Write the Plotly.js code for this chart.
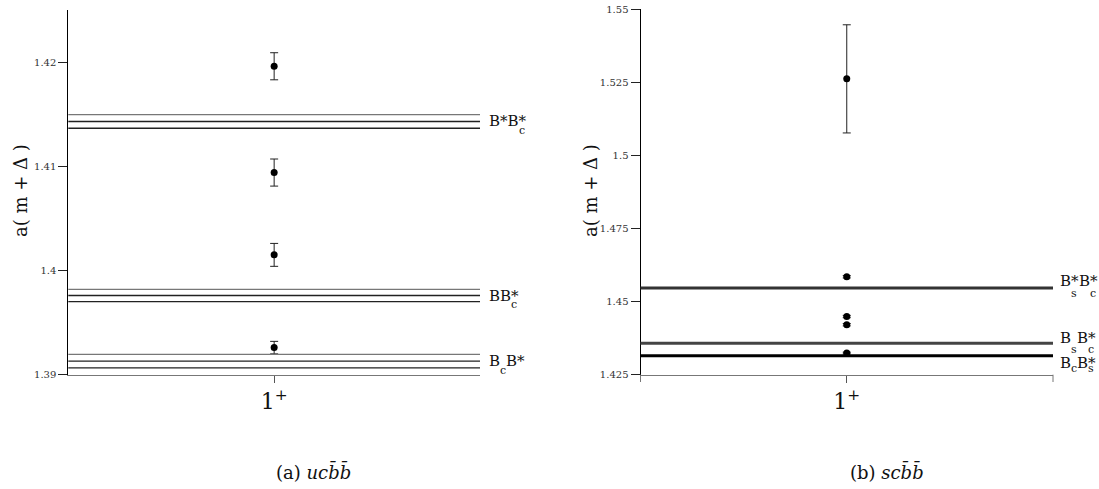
<!DOCTYPE html>
<html>
<head>
<meta charset="utf-8">
<script src="https://cdn.plot.ly/plotly-3.0.1.min.js"></script>
<style>html,body{margin:0;padding:0;background:#fff}#chart{width:1099px;height:489px}</style>
</head>
<body>
<div id="chart"></div>
<script>
// ---- data: panel (a) u c bbar bbar ----
const channelCats = ['1<sup>+</sup>'];
const leftMass = [1.4196, 1.4094, 1.4015, 1.3926];
const leftErr  = [0.0013, 0.0013, 0.0011, 0.0006];
const leftThrCenter = [1.4143, 1.3976, 1.3913];
const leftThrErr    = [0.00065, 0.00058, 0.00065];
const leftThrLabels = [
  [['B*B*', 'c']],
  [['BB*', 'c']],
  [['B', 'c'], ['B*', '']]
];
const leftTicks = [1.39, 1.40, 1.41, 1.42];
const leftTickText = ['1.39', '1.4', '1.41', '1.42'];

// ---- data: panel (b) s c bbar bbar ----
const rightMass = [1.5262, 1.4585, 1.4449, 1.4421, 1.4324];
const rightErr  = [0.0185, 0.0004, 0.0004, 0.0004, 0.0003];
const rightThr  = [1.4547, 1.4358, 1.4315];
const rightThrLabels = [
  [['B*', 's'], ['B*', 'c']],
  [['B', 's'], ['B*', 'c']],
  [['B', 'c'], ['B*', 's']]
];
const rightTicks = [1.425, 1.45, 1.475, 1.5, 1.525, 1.55];
const rightTickText = ['1.425', '1.45', '1.475', '1.5', '1.525', '1.55'];

// ---- layout helpers ----
const W = 1099, H = 489;
const SERIF = 'DejaVu Serif';
const MAINSZ = 15, SUBSZ = 11;
const cv = document.createElement('canvas').getContext('2d');
function tw(t, sz) { cv.font = sz + 'px "DejaVu Serif"'; return cv.measureText(t).width; }

const annotations = [];
const shapes = [];

function addLabel(tokens, xref, yref, yval, gap, baseDy, subDy) {
  let off = gap;
  tokens.forEach(([main, sub]) => {
    annotations.push({xref: xref, yref: yref, x: 1, y: yval, xanchor: 'left', yanchor: 'middle',
      xshift: off, yshift: baseDy, text: main, showarrow: false,
      font: {family: SERIF, size: MAINSZ, color: '#111'}});
    const wMain = tw(main, MAINSZ);
    let adv = wMain;
    if (sub) {
      let sx;
      if (main.endsWith('*')) {
        sx = off + wMain - tw('*', MAINSZ);
        adv = Math.max(wMain, wMain - tw('*', MAINSZ) + tw(sub, SUBSZ));
      } else {
        sx = off + wMain;
        adv = wMain + tw(sub, SUBSZ);
      }
      annotations.push({xref: xref, yref: yref, x: 1, y: yval, xanchor: 'left', yanchor: 'middle',
        xshift: sx, yshift: subDy, text: sub, showarrow: false,
        font: {family: SERIF, size: SUBSZ, color: '#111'}});
    }
    off += adv;
  });
}

leftThrCenter.forEach((c, i) => {
  [c + leftThrErr[i], c, c - leftThrErr[i]].forEach((v, k) => {
    shapes.push({type: 'line', xref: 'x domain', yref: 'y', x0: 0, x1: 1, y0: v, y1: v,
      line: {color: k === 0 ? '#777' : '#222', width: 1.3}});
  });
  addLabel(leftThrLabels[i], 'x domain', 'y', c, 7, 0, -9);
});

const rightColors = ['#333', '#444', '#000'];
const rightBaseDy = [7, 5.5, -7];
const rightSubDy = [-6, -6, -13];
rightThr.forEach((v, i) => {
  shapes.push({type: 'line', xref: 'x2 domain', yref: 'y2', x0: 0, x1: 1, y0: v, y1: v,
    line: {color: rightColors[i], width: 3}});
  addLabel(rightThrLabels[i], 'x2 domain', 'y2', v, 5, rightBaseDy[i], rightSubDy[i]);
});

[0, 1].forEach(p => shapes.push({type: 'line', xref: 'x2 domain', yref: 'y2 domain',
  x0: p, x1: p, y0: 0, y1: -0.02, line: {color: '#777', width: 1}}));

[20, 590].forEach(px => annotations.push({xref: 'paper', yref: 'paper', x: px / W, y: (H - 191) / H,
  xanchor: 'center', yanchor: 'middle', textangle: -90, showarrow: false,
  text: 'a( m + Δ )', font: {family: SERIF, size: 18, color: '#111'}}));

annotations.push({xref: 'paper', yref: 'paper', x: 313 / W, y: (H - 471) / H, xanchor: 'center', yanchor: 'middle',
  showarrow: false, text: '(a) <i>ucb\u0304b\u0304</i>', font: {family: SERIF, size: 18, color: '#111'}});
annotations.push({xref: 'paper', yref: 'paper', x: 887 / W, y: (H - 471) / H, xanchor: 'center', yanchor: 'middle',
  showarrow: false, text: '(b) <i>scb\u0304b\u0304</i>', font: {family: SERIF, size: 18, color: '#111'}});

const xs = n => Array(n).fill(channelCats[0]);

const traces = [
  {type: 'scatter', mode: 'markers', x: xs(leftMass.length), y: leftMass, xaxis: 'x', yaxis: 'y',
   marker: {color: '#000', size: 7},
   error_y: {type: 'data', array: leftErr, visible: true, color: '#222', thickness: 1, width: 4}},
  {type: 'scatter', mode: 'markers', x: xs(rightMass.length), y: rightMass, xaxis: 'x2', yaxis: 'y2',
   marker: {color: '#000', size: 7},
   error_y: {type: 'data', array: rightErr, visible: true, color: '#222', thickness: 1, width: 4}}
];

function xax(dom) {
  return {domain: dom, type: 'category', range: [-1, 1], showgrid: false, zeroline: false,
    showline: true, linecolor: '#777', linewidth: 1, ticks: 'outside', ticklen: 7, tickcolor: '#555',
    tickfont: {family: SERIF, size: 22, color: '#111'}, fixedrange: true};
}
function yax(dom, rng, tv, tt, anchor) {
  return {domain: dom, range: rng, tickvals: tv, ticktext: tt, showgrid: false, zeroline: false,
    showline: true, linecolor: '#000', linewidth: 1, ticks: 'outside', ticklen: 9, tickcolor: '#222',
    tickfont: {family: SERIF, size: 10, color: '#333'}, anchor: anchor, fixedrange: true};
}

const layout = {
  width: W, height: H, margin: {l: 0, r: 0, t: 0, b: 0},
  font: {family: SERIF},
  paper_bgcolor: '#fff', plot_bgcolor: '#fff', showlegend: false,
  xaxis: Object.assign(xax([68.3 / W, 480 / W]), {anchor: 'y'}),
  yaxis: yax([(H - 374.7) / H, (H - 10) / H], [1.39, 1.425], leftTicks, leftTickText, 'x'),
  xaxis2: Object.assign(xax([640.5 / W, 1053 / W]), {anchor: 'y2'}),
  yaxis2: yax([(H - 374.7) / H, (H - 9.3) / H], [1.425, 1.55], rightTicks, rightTickText, 'x2'),
  shapes: shapes,
  annotations: annotations
};

Plotly.newPlot('chart', traces, layout, {displayModeBar: false, staticPlot: true});
</script>
</body>
</html>
